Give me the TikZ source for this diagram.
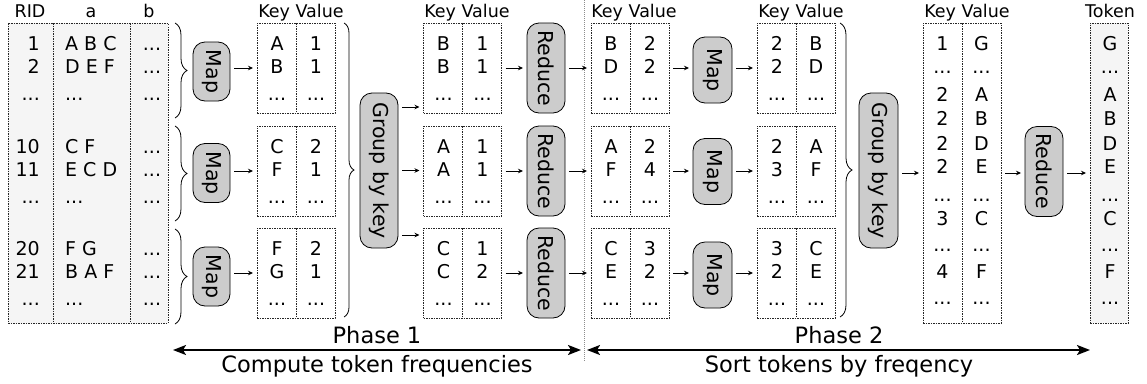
\documentclass[tikz,border=0pt]{standalone}
\usepackage{fontspec}
\setmainfont{DejaVu Sans}
\usetikzlibrary{arrows.meta,decorations.pathreplacing}

% three dots used as an elided row
\newcommand\dotrow{...}

% key/value box: name, left, top, key1, value1, key2, value2 (third row is dots)
\newcommand\kvbox[7]{%
  \node[frame, minimum width=78pt, minimum height=90pt] (#1) at ({#2+39},{#3+45}) {};
  \draw[div] (#1.north) -- (#1.south);
  \node[cell] (#1-k1) at ({#2+20},{#3+27}) {#4};
  \node[cell] (#1-v1) at ({#2+59},{#3+27}) {#5};
  \node[cell] (#1-k2) at ({#2+20},{#3+50.5}) {#6};
  \node[cell] (#1-v2) at ({#2+59},{#3+50.5}) {#7};
  \node[cell] (#1-k3) at ({#2+20},{#3+77}) {\dotrow};
  \node[cell] (#1-v3) at ({#2+59},{#3+77}) {\dotrow};
}

\begin{document}
\begin{tikzpicture}[x=1pt,y=-1pt,
  frame/.style={draw=black!85, line width=0.8pt, dash pattern=on 1.5pt off 1pt, fill=white, inner sep=0pt, outer sep=0pt},
  div/.style={draw=black!85, line width=0.8pt, dash pattern=on 1.5pt off 1pt},
  cell/.style={inner sep=0pt, anchor=base, font=\fontsize{19}{21}\selectfont},
  hdr/.style={inner sep=0pt, anchor=base, font=\fontsize{17.5}{19}\selectfont},
  proc/.style={draw=black, line width=0.8pt, fill=black!20, rounded corners=12pt, rotate=-90, inner sep=0pt, outer sep=0pt, font=\fontsize{20.5}{22}\selectfont},
  arr/.style={-{Stealth[length=5pt,width=4.5pt]}, line width=0.8pt, shorten <=4pt, shorten >=4pt},
  brc/.style={decorate, decoration={brace, amplitude=#1}, line width=0.8pt},
  phase/.style={{Stealth[length=13pt,width=10pt,inset=3pt]}-{Stealth[length=13pt,width=10pt,inset=3pt]}, line width=2pt},
  lbl/.style={inner sep=0pt, anchor=base, font=\fontsize{22.5}{24}\selectfont}]
\useasboundingbox (0,0) rectangle (1147,383);

% ---- column headers
\node[hdr] (h-rid) at (30,17) {RID};
\node[hdr] (h-a) at (91,17) {a};
\node[hdr] (h-b) at (149,17) {b};
\node[hdr] (h-kv1) at (301,17) {Key Value};
\node[hdr] (h-kv2) at (467,17) {Key Value};
\node[hdr] (h-kv3) at (634,17) {Key Value};
\node[hdr] (h-kv4) at (801,17) {Key Value};
\node[hdr] (h-kv5) at (967,17) {Key Value};
\node[hdr] (h-tok) at (1110,17) {Token};

% ---- input relation
\node[frame, fill=black!4, minimum width=160pt, minimum height=300pt] (rel) at (88,173) {};
\draw[div] (53,23) -- (53,323);
\draw[div] (130,23) -- (130,323);
\foreach \o/\ra/\rb/\aa/\ab [count=\g] in {0/1/2/A B C/D E F, 103/10/11/C F/E C D, 205/20/21/F G/B A F} {
  \node[cell, anchor=base east] (rid-\g-1) at (40,{50+\o}) {\ra};
  \node[cell, anchor=base east] (rid-\g-2) at (40,{73.5+\o}) {\rb};
  \node[cell, anchor=base east] (rid-\g-3) at (40,{100+\o}) {\dotrow};
  \node[cell, anchor=base west] (a-\g-1) at (65,{50+\o}) {\aa};
  \node[cell, anchor=base west] (a-\g-2) at (65,{73.5+\o}) {\ab};
  \node[cell, anchor=base west] (a-\g-3) at (65,{100+\o}) {\dotrow};
  \node[cell] (b-\g-1) at (152,{50+\o}) {\dotrow};
  \node[cell] (b-\g-2) at (152,{73.5+\o}) {\dotrow};
  \node[cell] (b-\g-3) at (152,{100+\o}) {\dotrow};
}
\draw[brc=12pt] (175,23) -- (175,118);
\draw[brc=12pt] (175,126) -- (175,221);
\draw[brc=12pt] (175,229) -- (175,324);

% ---- phase 1: map
\node[proc, minimum width=59pt, minimum height=37pt] (map1) at (211.5,71.5) {Map};
\node[proc, minimum width=59pt, minimum height=37pt] (map2) at (211.5,173) {Map};
\node[proc, minimum width=59pt, minimum height=37pt] (map3) at (211.5,276.5) {Map};

\kvbox{kva}{257}{23}{A}{1}{B}{1}
\kvbox{kvb}{257}{126}{C}{2}{F}{1}
\kvbox{kvc}{257}{228}{F}{2}{G}{1}

\draw[arr] (map1.north |- kva.west) -- (kva.west);
\draw[arr] (map2.north |- kvb.west) -- (kvb.west);
\draw[arr] (map3.north |- kvc.west) -- (kvc.west);

\draw[brc=10pt] (344,23) -- (344,317);
\node[proc, minimum width=155pt, minimum height=38pt] (grp1) at (379,170.5) {Group by key};

\kvbox{kvd}{423.5}{23}{B}{1}{B}{1}
\kvbox{kve}{423.5}{126}{A}{1}{A}{1}
\kvbox{kvf}{423.5}{228}{C}{1}{C}{2}

\coordinate (g1a) at ([yshift=63.5pt]grp1.north);
\coordinate (g1b) at (grp1.north);
\coordinate (g1c) at ([yshift=-64.5pt]grp1.north);
\draw[arr] (g1a) -- (g1a -| kvd.west);
\draw[arr] (g1b) -- (g1b -| kve.west);
\draw[arr] (g1c) -- (g1c -| kvf.west);

\node[proc, minimum width=90pt, minimum height=38pt] (red1) at (546,68) {Reduce};
\node[proc, minimum width=90pt, minimum height=38pt] (red2) at (546,171) {Reduce};
\node[proc, minimum width=90pt, minimum height=38pt] (red3) at (546,273) {Reduce};
\draw[arr] (kvd.east) -- (red1.south);
\draw[arr] (kve.east) -- (red2.south);
\draw[arr] (kvf.east) -- (red3.south);

% ---- phase boundary
\draw[black!45, line width=0.6pt, dash pattern=on 1pt off 1pt] (584,0) -- (584,362);

% ---- phase 2: swap key and value
\kvbox{kvg}{591}{23}{B}{2}{D}{2}
\kvbox{kvh}{591}{126}{A}{2}{F}{4}
\kvbox{kvi}{591}{228}{C}{3}{E}{2}
\draw[arr] (red1.north) -- (kvg.west);
\draw[arr] (red2.north) -- (kvh.west);
\draw[arr] (red3.north) -- (kvi.west);

\node[proc, minimum width=66pt, minimum height=39pt] (map4) at (712.5,70) {Map};
\node[proc, minimum width=66pt, minimum height=39pt] (map5) at (712.5,171.5) {Map};
\node[proc, minimum width=66pt, minimum height=39pt] (map6) at (712.5,275) {Map};
\draw[arr] (kvg.east) -- (kvg.east -| map4.south);
\draw[arr] (kvh.east) -- (kvh.east -| map5.south);
\draw[arr] (kvi.east) -- (kvi.east -| map6.south);

\kvbox{kvj}{757}{23}{2}{B}{2}{D}
\kvbox{kvk}{757}{126}{2}{A}{3}{F}
\kvbox{kvl}{757}{228}{3}{C}{2}{E}
\draw[arr] (map4.north |- kvj.west) -- (kvj.west);
\draw[arr] (map5.north |- kvk.west) -- (kvk.west);
\draw[arr] (map6.north |- kvl.west) -- (kvl.west);

\draw[brc=12pt] (840,23) -- (840,317);
\node[proc, minimum width=155pt, minimum height=39pt] (grp2) at (878.5,170.5) {Group by key};

% ---- grouped and sorted pairs
\node[frame, minimum width=78pt, minimum height=300pt] (srt) at (962,173) {};
\draw[div] (srt.north) -- (srt.south);
\foreach \y/\k/\v [count=\i] in {50/1/G, 73/\dotrow/\dotrow, 101.5/2/A, 125/2/B, 150/2/D, 173/2/E, 201/\dotrow/\dotrow, 225/3/C, 251/\dotrow/\dotrow, 278/4/F, 304.5/\dotrow/\dotrow} {
  \node[cell] (srt-k\i) at (942.5,\y) {\k};
  \node[cell] (srt-v\i) at (981.5,\y) {\v};
}
\draw[arr] (grp2.north |- srt.west) -- (srt.west);

\node[proc, minimum width=90pt, minimum height=38pt] (red4) at (1044,171.5) {Reduce};
\draw[arr] (srt.east) -- (srt.east -| red4.south);

% ---- output tokens
\node[frame, fill=black!4, minimum width=38pt, minimum height=300pt] (tok) at (1109,173) {};
\foreach \y/\t [count=\i] in {50/G, 73/\dotrow, 101.5/A, 125/B, 150/D, 173/E, 201/\dotrow, 225/C, 251/\dotrow, 278/F, 304.5/\dotrow} {
  \node[cell] (tok-\i) at (1110,\y) {\t};
}
\draw[arr] (red4.north |- tok.west) -- (tok.west);

% ---- phase annotations
\coordinate (p1l) at (173,350);
\coordinate (p1r) at (581,350);
\coordinate (p2l) at (587,350);
\coordinate (p2r) at (1090,350);
\draw[phase] (p1l) -- (p1r);
\draw[phase] (p2l) -- (p2r);
\node[lbl] (ph1) at (377,343) {Phase 1};
\node[lbl] (ds1) at (377,372) {Compute token frequencies};
\node[lbl] (ph2) at (839,343) {Phase 2};
\node[lbl] (ds2) at (839,372) {Sort tokens by freqency};
\end{tikzpicture}
\end{document}
